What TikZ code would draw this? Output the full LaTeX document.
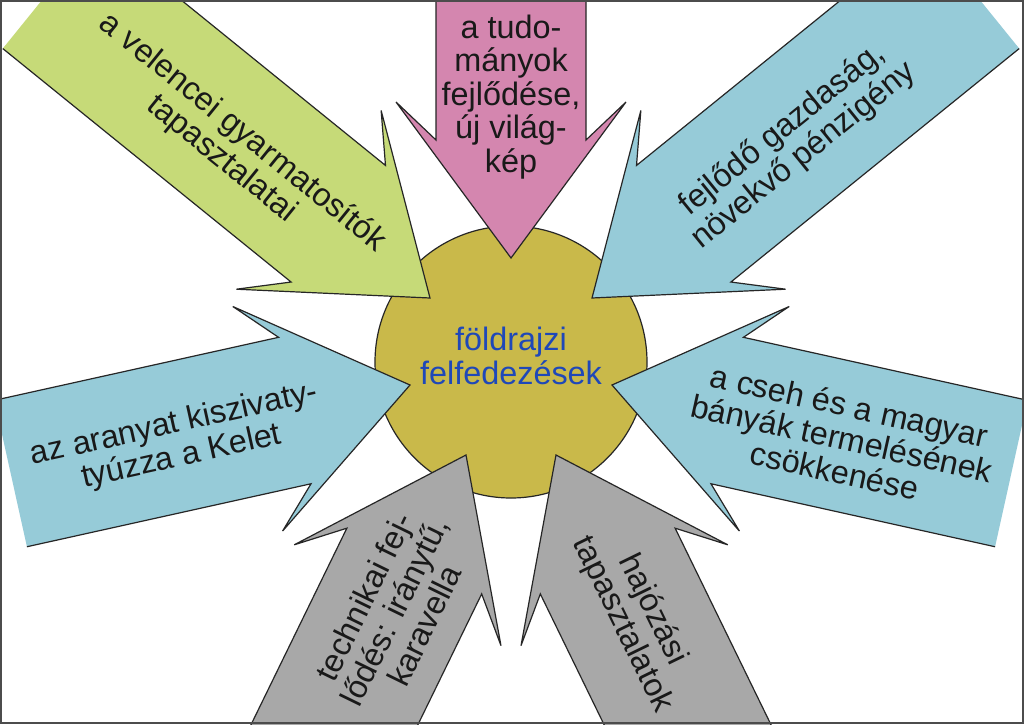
\documentclass[tikz,border=0pt]{standalone}
\usepackage{fontspec}
\setmainfont{Liberation Sans}
\usepackage{tikz}
\definecolor{arrgreen}{HTML}{C6DA78}
\definecolor{arrpink}{HTML}{D486AF}
\definecolor{arrblue}{HTML}{96CBD8}
\definecolor{arrgray}{HTML}{A8A8A8}
\definecolor{core}{HTML}{C9B94A}
\definecolor{coretext}{HTML}{1F48B8}

\begin{document}
\begin{tikzpicture}[x=0.5pt,y=-0.5pt,
  barb/.pic={\filldraw[line width=0.6pt,draw=black!85]
    (-#1,75) -- (-118,75) -- (-156,115) -- (0,0) -- (-156,-115) -- (-118,-75) -- (-#1,-75);},
  lab/.style={font=\fontsize{16.2}{16.7}\selectfont,align=center,inner sep=0pt,text=black!90}]
\useasboundingbox (0,0) rectangle (1024,724);
\clip (0,0) rectangle (1024,724);
\fill[white] (0,0) rectangle (1024,724);
\node[circle,fill=core,draw=black!85,line width=0.6pt,minimum size=136pt] (hub) at (511,362) {};
\node[lab,text=coretext] (hubtext) at (511,356) {földrajzi\\felfedezések};
% arrows toward the centre
\pic[fill=arrgreen,rotate=-39] (velence) at (430,298) {barb=489};
\pic[fill=arrpink,rotate=-90] (tudomany) at (511,258) {barb=300};
\pic[fill=arrblue,rotate=-141] (gazdasag) at (592,298) {barb=489};
\pic[fill=arrblue,rotate=12.5] (arany) at (410,385) {barb=409};
\pic[fill=arrblue,rotate=167.5] (banya) at (612,385) {barb=409};
\pic[fill=arrgray,rotate=64] (technika) at (466,455) {barb=400};
\pic[fill=arrgray,rotate=116] (hajozas) at (556,455) {barb=400};
% labels
\node[lab,rotate=-39] (velencelab) at (232,146) {a velencei gyarmatosítók\\tapasztalatai};
\node[lab] (tudomanylab) at (511,97) {a tudo-\\mányok\\fejlődése,\\új világ-\\kép};
\node[lab,rotate=39] (gazdasaglab) at (793,143) {fejlődő gazdaság,\\növekvő pénzigény};
\node[lab,rotate=12.5] (aranylab) at (178,441) {az aranyat kiszivaty-\\tyúzza a Kelet};
\node[lab,rotate=-12.5] (banyalab) at (842,438) {a cseh és a magyar\\bányák termelésének\\csökkenése};
\node[lab,rotate=64] (technikalab) at (394,611) {technikai fej-\\lődés: iránytű,\\karavella};
\node[lab,rotate=-64] (hajozaslab) at (637,617) {hajózási\\tapasztalatok};
\draw[black!70,line width=1pt] (1,1) rectangle (1023,723);
\end{tikzpicture}
\end{document}
